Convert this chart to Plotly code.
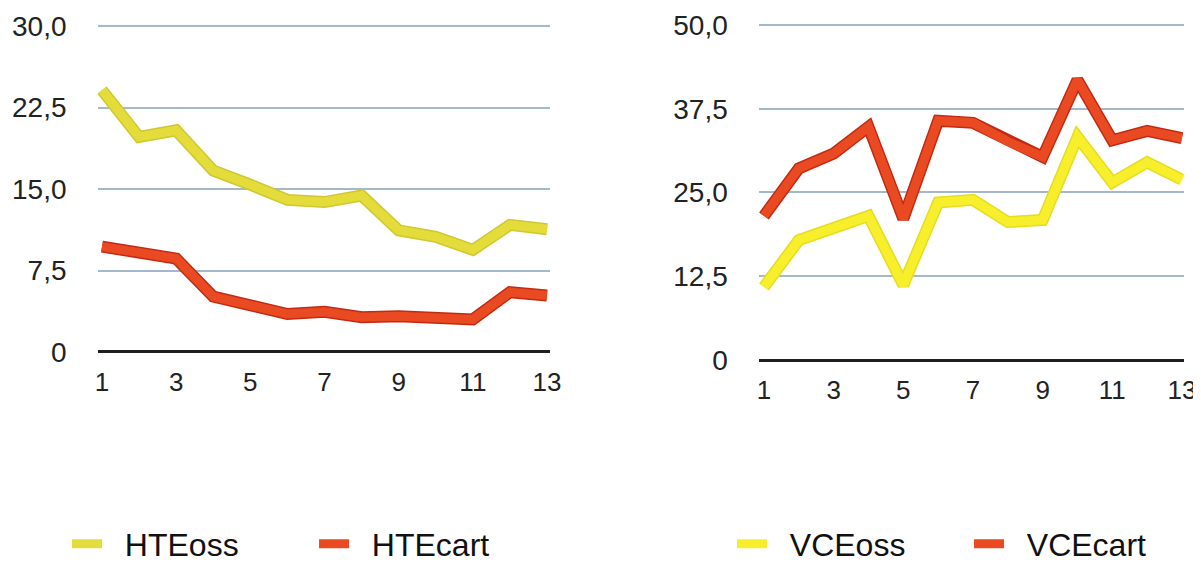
import plotly.graph_objects as go

x_vals = list(range(1, 14))
hte_oss = [24.1, 19.8, 20.4, 16.7, 15.4, 14.0, 13.8, 14.4, 11.2, 10.6, 9.4, 11.7, 11.3]
hte_cart = [9.7, 9.2, 8.6, 5.1, 4.2, 3.5, 3.7, 3.2, 3.3, 3.2, 3.0, 5.5, 5.2]
vce_oss = [10.9, 17.9, 19.7, 21.5, 11.2, 23.5, 23.9, 20.6, 20.9, 33.3, 26.5, 29.5, 26.9]
vce_cart = [21.5, 28.6, 30.8, 34.8, 21.1, 35.7, 35.4, 32.6, 30.3, 41.8, 32.8, 34.2, 33.1]

x_ticks = [1, 3, 5, 7, 9, 11, 13]
left_yticks = [0, 7.5, 15, 22.5, 30]
left_ytext = ["0", "7,5", "15,0", "22,5", "30,0"]
right_yticks = [0, 12.5, 25, 37.5, 50]
right_ytext = ["0", "12,5", "25,0", "37,5", "50,0"]

FONT = "Liberation Sans, Arial, Helvetica, sans-serif"
YEL1 = "#e4dc3a"
YEL1_EDGE = "#d0c830"
YEL2 = "#f7ee2c"
YEL2_EDGE = "#e8dc20"
RED = "#ea4a22"
RED_EDGE = "#c42a12"

fig = go.Figure()

def add_series(xa, ya, y, name, color, edge, legend):
    fig.add_trace(go.Scatter(x=x_vals, y=y, xaxis=xa, yaxis=ya, mode="lines",
                             line=dict(color=edge, width=12), showlegend=False,
                             hoverinfo="skip"))
    fig.add_trace(go.Scatter(x=x_vals, y=y, xaxis=xa, yaxis=ya, mode="lines",
                             name="\u00a0\u00a0" + name,
                             line=dict(color=color, width=9), legend=legend))

add_series("x", "y", hte_oss, "HTEoss", YEL1, YEL1_EDGE, "legend")
add_series("x", "y", hte_cart, "HTEcart", RED, RED_EDGE, "legend")
add_series("x2", "y2", vce_oss, "VCEoss", YEL2, YEL2_EDGE, "legend2")
add_series("x2", "y2", vce_cart, "VCEcart", RED, RED_EDGE, "legend2")

tickfont = dict(family=FONT, size=28, color="#222222")
xtickfont = dict(family=FONT, size=26, color="#222222")
grid = dict(showgrid=True, gridcolor="#a3b8ca", gridwidth=1.5,
            zeroline=True, zerolinecolor="#1e1e1e", zerolinewidth=2.5,
            showline=False, ticks="", tickfont=tickfont, ticklabelstandoff=30)
xcommon = dict(showgrid=False, zeroline=False, showline=False, ticks="",
               tickvals=x_ticks, tickfont=xtickfont, ticklabelstandoff=12)

legfont = dict(family=FONT, size=32, color="#111111")

fig.update_layout(
    width=1193, height=556,
    margin=dict(l=0, r=0, t=0, b=0, autoexpand=False),
    paper_bgcolor="white", plot_bgcolor="white",
    xaxis=dict(domain=[0.07506, 0.4543], range=[0.88, 13.08], anchor="y", **xcommon),
    yaxis=dict(domain=[0.3813, 0.9754], range=[0, 30.4], anchor="x",
               tickvals=left_yticks, ticktext=left_ytext, **grid),
    xaxis2=dict(domain=[0.6293, 0.9855], range=[0.85, 13.05], anchor="y2", **xcommon),
    yaxis2=dict(domain=[0.3669, 0.9767], range=[0, 50.6], anchor="x2",
                tickvals=right_yticks, ticktext=right_ytext, **grid),
    legend=dict(orientation="h", x=0.0495, xanchor="left", y=0.036, yanchor="middle",
                font=legfont, entrywidth=202, entrywidthmode="pixels", itemwidth=30,
                bgcolor="rgba(0,0,0,0)"),
    legend2=dict(orientation="h", x=0.6069, xanchor="left", y=0.036, yanchor="middle",
                 font=legfont, entrywidth=192, entrywidthmode="pixels", itemwidth=30,
                 bgcolor="rgba(0,0,0,0)"),
    showlegend=True,
)

fig.write_html("out.html")
